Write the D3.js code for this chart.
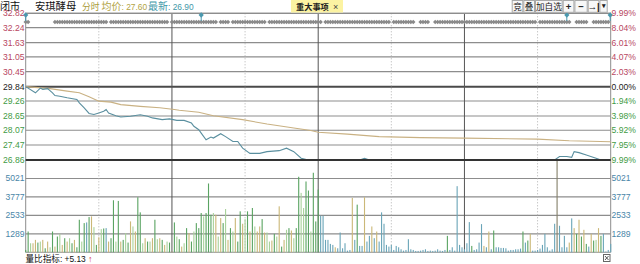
<!DOCTYPE html>
<html><head><meta charset="utf-8">
<script src="https://cdn.jsdelivr.net/npm/d3@7"></script>
<style>html,body{margin:0;padding:0;background:#fff;overflow:hidden}</style>
</head><body><svg id="c" width="640" height="264"></svg>
<script>
// ---------- data ----------
const stockName = "安琪酵母";
const avgPriceLabel = "27.60";
const lastPriceLabel = "26.90";
const volRatioLabel = "+5.13";
const prevClose = 29.84;
const priceTicks = [32.82, 32.24, 31.63, 31.05, 30.45, 29.84, 29.26, 28.65, 28.07, 27.47, 26.86];
const pctTicks = ["9.99%", "8.04%", "6.01%", "4.07%", "2.03%", "0.00%", "1.94%", "3.98%", "5.92%", "7.95%", "9.99%"];
const volTicks = [5021, 3777, 2533, 1289];
const buttons = ["竞", "叠", "加自选", "+", "−", "→|", "▾"];

// [minute, price]
const pricePts = [[0,29.84],[4,29.59],[6,29.78],[7,29.73],[9,29.76],[11,29.59],[12,29.48],[14,29.45],[17,29.39],[21,29.32],[22,29.18],[24,28.98],[26,28.75],[28,28.71],[30,28.77],[32,28.84],[33,28.91],[34,28.77],[37,28.66],[39,28.61],[43,28.64],[47,28.70],[50,28.64],[52,28.57],[56,28.50],[59,28.53],[62,28.47],[65,28.47],[68,28.36],[69,28.23],[71,28.09],[72,27.95],[74,27.68],[76,27.79],[77,27.75],[80,27.93],[82,27.81],[85,27.61],[87,27.61],[89,27.34],[92,27.13],[96,27.13],[99,27.20],[104,27.24],[107,27.34],[110,27.20],[113,26.93],[116,26.86],[137,26.86],[139,26.93],[141,26.86],[189,26.86],[190,26.88],[192,26.86],[196,26.88],[198,26.86],[205,26.88],[206,26.86],[217,26.86],[219,27.00],[222,27.00],[224,26.97],[225,27.20],[227,27.16],[230,27.06],[234,26.93],[236,26.86],[240,26.88]];
const avgPts = [[0,29.84],[10,29.76],[17,29.66],[22,29.59],[26,29.43],[30,29.25],[35,29.21],[39,29.11],[47,29.04],[55,28.98],[61,28.91],[63,28.88],[71,28.80],[77,28.66],[89,28.50],[99,28.32],[110,28.16],[117,28.06],[120,27.99],[132,27.91],[145,27.81],[162,27.77],[180,27.75],[210,27.71],[223,27.64],[240,27.60]];

const volumes = [203,1447,656,656,882,701,769,882,316,769,
384,1447,430,1108,1289,543,995,769,995,656,
882,384,2239,769,2013,2058,2420,2465,1742,543,
1063,1606,1651,1674,769,995,3551,769,3506,769,
882,1334,701,2126,1787,1447,3755,2737,656,995,
769,769,995,2239,927,995,882,543,769,701,
90,2058,1108,927,430,656,1674,1334,769,1447,
2013,1674,2692,2465,2692,4682,2578,2692,2578,1108,
2352,2013,2963,882,1674,1447,2352,769,2805,1968,
2284,2805,1447,3031,1787,1447,1787,2284,1380,1380,
769,837,1289,1108,3144,430,882,1561,1674,1515,
995,1674,5135,4049,3031,4818,4207,1447,5406,2126,
4275,2511,2511,882,882,611,543,384,316,1380,
316,656,158,203,3709,882,3257,475,475,3755,
769,1153,1787,995,1447,769,2737,1968,543,430,
543,203,475,384,249,158,203,927,249,203,
135,135,158,203,249,135,158,135,158,249,
158,135,203,1153,203,384,158,4501,543,384,
249,656,2081,475,203,249,701,1945,475,384,
1447,249,1515,384,384,339,339,316,158,203,
203,249,249,294,1447,701,837,1289,158,158,
203,294,543,1289,384,158,249,1968,6900,1832,
384,1153,384,701,2330,1674,1289,2239,1108,1561,
611,430,1289,837,882,1674,1153,1289,90,203,611];
// bar type per minute: g=up, l=weak up, t=flat, b=down, x=block trade
const volTypes = ("gglttgltgt"+"lgtgltgtlg"+"tgglgbgtlg"+"tlgbtgglgt"+"glgtltgglt"+
"gltgltgtlg"+"tglgtlgtgl"+"ggglgggltl"+"tgltgltggt"+"lgtglttgtl"+
"ltgltgtlgt"+"lggllgglgg"+"gbbbbbbtbb"+"bbbbtbgbbt"+"bbtbtbbbbb"+
"bbbbbbbbbb"+"bbbbbbbbbb"+"bbbgbbbbbb"+"bbbgbbbbtb"+"tbgbbbbbbb"+
"bbbbgbgtbb"+"bbbbbbbbxb"+"bbbtbtgtgt"+"gbtgltgbbb"+"b").split("");

const eventSegments = [[0,1],[12,33],[35,48],[49,58],[60,64],[65,78],[80,83],[85,97],[98,98],[100,104],[105,121],[123,149],[151,159],[162,165],[168,177],[178,195],[196,198],[199,209],[211,223],[226,230],[233,239]];
const eventMarks = [0,72,222,240];

// ---------- layout ----------
const svg = d3.select("#c");
const L = 25.7, R = 610.7, T = 13.3, PB = 160, VB = 252.3;
const x = d3.scaleLinear().domain([0,240]).range([L,R]);
const yP = d3.scaleLinear().domain([26.86,32.82]).range([PB,T]);
const yV = d3.scaleLinear().domain([45,6265]).range([VB,PB]);

const upC = "#b8475f", dnC = "#3f9b45", volC = "#4a86a8";
const typeColor = {g:"#5aa462", l:"#a9d29b", t:"#cbb878", b:"#6aa5b8", x:"#85806a"};

// horizontal grid (price)
priceTicks.forEach((p,i)=>{
  const thick = (i===5 || i===10);
  svg.append("line").attr("x1",L).attr("x2",R).attr("y1",yP(p)).attr("y2",yP(p))
    .attr("stroke", thick? "#4a4a4a":"#8d8d8d").attr("stroke-width", thick?2:1.1);
});
// volume grid
volTicks.forEach(v=>{
  svg.append("line").attr("x1",L).attr("x2",R).attr("y1",yV(v)).attr("y2",yV(v))
    .attr("stroke","#8d8d8d").attr("stroke-width",1.1);
});
svg.append("line").attr("x1",L).attr("x2",R).attr("y1",VB).attr("y2",VB).attr("stroke","#8d8d8d").attr("stroke-width",1.1);

// vertical grid
[30,90,150,210].forEach(m=>{
  svg.append("line").attr("x1",x(m)).attr("x2",x(m)).attr("y1",T).attr("y2",VB)
    .attr("stroke","#b0b0b0").attr("stroke-width",1).attr("stroke-dasharray","1,2");
});
[60,120,180].forEach(m=>{
  svg.append("line").attr("x1",x(m)).attr("x2",x(m)).attr("y1",T).attr("y2",VB)
    .attr("stroke","#555").attr("stroke-width",1);
});
[0,240].forEach(m=>{
  svg.append("line").attr("x1",x(m)).attr("x2",x(m)).attr("y1",T).attr("y2",VB)
    .attr("stroke","#8d8d8d").attr("stroke-width",1);
});

// volume bars
svg.append("g").selectAll("rect").data(volumes).join("rect")
  .attr("x",(d,i)=>x(i)-0.55).attr("width",1.1)
  .attr("y",d=>Math.max(yV(d),PB)).attr("height",d=>VB-Math.max(yV(d),PB))
  .attr("fill",(d,i)=>typeColor[volTypes[i]]||typeColor.b);

// price & average
const line = d3.line().x(d=>x(d[0])).y(d=>yP(d[1]));
svg.append("path").datum(avgPts).attr("d",line).attr("fill","none").attr("stroke","#c9b183").attr("stroke-width",1.1);
svg.append("path").datum(pricePts).attr("d",line).attr("fill","none").attr("stroke","#5a8f9f").attr("stroke-width",1.1);
// limit-down line over price
svg.append("line").attr("x1",L).attr("x2",R).attr("y1",yP(26.86)).attr("y2",yP(26.86)).attr("stroke","#333").attr("stroke-width",2);
svg.append("line").attr("x1",L).attr("x2",R).attr("y1",T).attr("y2",T).attr("stroke","#8d8d8d").attr("stroke-width",1.2);

// event diamonds
const evG = svg.append("g");
eventSegments.forEach(([a,b])=>{
  for(let m=a;m<=b;m++){
    const cx=x(m), cy=22;
    evG.append("path").attr("d",`M${cx-2.2},${cy}L${cx},${cy-2.3}L${cx+2.2},${cy}L${cx},${cy+2.3}Z`).attr("fill","#8a8a8a");
  }
});
eventMarks.forEach(m=>{
  const cx=Math.min(x(m),R-0.5);
  svg.append("line").attr("x1",cx).attr("x2",cx).attr("y1",15).attr("y2",21).attr("stroke","#4a98ae").attr("stroke-width",1);
  svg.append("path").attr("d",`M${cx-2.6},15L${cx},12.2L${cx+2.6},15L${cx},17.8Z`).attr("fill","#4a98ae");
});

// left axis labels
const axF = "'Liberation Sans', Arial, sans-serif";
const mixF = "'Liberation Sans', 'Noto Sans CJK SC', sans-serif";
priceTicks.forEach((p,i)=>{
  svg.append("text").attr("x",24.5).attr("y",yP(p)).attr("dy","0.35em").attr("text-anchor","end")
    .attr("font-family",axF).attr("font-size",8.6)
    .attr("fill", i<5?upC:(i===5?"#222":dnC)).text(p.toFixed(2));
});
volTicks.forEach(v=>{
  svg.append("text").attr("x",24.5).attr("y",yV(v)).attr("dy","0.35em").attr("text-anchor","end")
    .attr("font-family",axF).attr("font-size",8.6).attr("fill",volC).text(v);
});
// right axis labels
pctTicks.forEach((t,i)=>{
  svg.append("text").attr("x",611.5).attr("y",yP(priceTicks[i])).attr("dy","0.35em")
    .attr("font-family",axF).attr("font-size",8.6)
    .attr("fill", i<5?upC:(i===5?"#222":dnC)).text(t);
});
volTicks.forEach(v=>{
  svg.append("text").attr("x",611.5).attr("y",yV(v)).attr("dy","0.35em")
    .attr("font-family",axF).attr("font-size",8.6).attr("fill",volC).text(v);
});

// header
function ht(xp, s, col, fs){ return svg.append("text").attr("x",xp).attr("y",10).attr("font-family",mixF).attr("font-size",fs).attr("fill",col).text(s); }
ht(0,"闭市","#111",10);
ht(35,stockName,"#111",10.3);
ht(82,"分时","#a99c3a",8.8);
const t1 = ht(101.5,"均价","#b3a444",10);
t1.append("tspan").attr("font-size",8.4).text(": "+avgPriceLabel);
const t2 = ht(148,"最新","#3f98a8",10);
t2.append("tspan").attr("font-size",8.4).text(": "+lastPriceLabel);

// 重大事项 tag
svg.append("rect").attr("x",291).attr("y",0).attr("width",52).attr("height",12.5).attr("fill","#fcf3a2");
svg.append("text").attr("x",296).attr("y",9.5).attr("font-family",mixF).attr("font-size",8.2).attr("font-weight","bold").attr("fill","#222").text("重大事项");
svg.append("text").attr("x",333).attr("y",9.5).attr("font-family",axF).attr("font-size",9).attr("fill","#444").text("×");

// toolbar buttons
const bw = [11.6,11.7,27.7,11.7,13.3,11.7,8.3];
let bx = 511.7;
buttons.forEach((b,i)=>{
  svg.append("rect").attr("x",bx+0.5).attr("y",0.5).attr("width",bw[i]-1).attr("height",11.8)
    .attr("fill","#f7f7f7").attr("stroke","#a8a8a8").attr("stroke-width",1);
  const bold = i>=3;
  svg.append("text").attr("x",bx+bw[i]/2).attr("y",i===6?8:9.5).attr("text-anchor","middle")
    .attr("font-family", mixF).attr("font-weight", bold?"bold":"normal")
    .attr("font-size", i===6?7:(bold?9.5:8.6)).attr("fill","#222").text(b);
  bx += bw[i];
});

// footer
const ft = svg.append("text").attr("x",25.5).attr("y",261.5).attr("font-family",mixF).attr("font-size",8.6).attr("fill","#111").text("量比指标");
ft.append("tspan").attr("font-size",8.4).text(": "+volRatioLabel+" ");
ft.append("tspan").attr("fill","#d0304a").attr("font-size",9).text("↑");
// small corner icon
svg.append("rect").attr("x",603.5).attr("y",254.5).attr("width",6.5).attr("height",7).attr("fill","#fff").attr("stroke","#666");
svg.append("path").attr("d","M605,256L608.5,260M608.5,256L605,260").attr("stroke","#444").attr("stroke-width",0.9);
</script></body></html>
